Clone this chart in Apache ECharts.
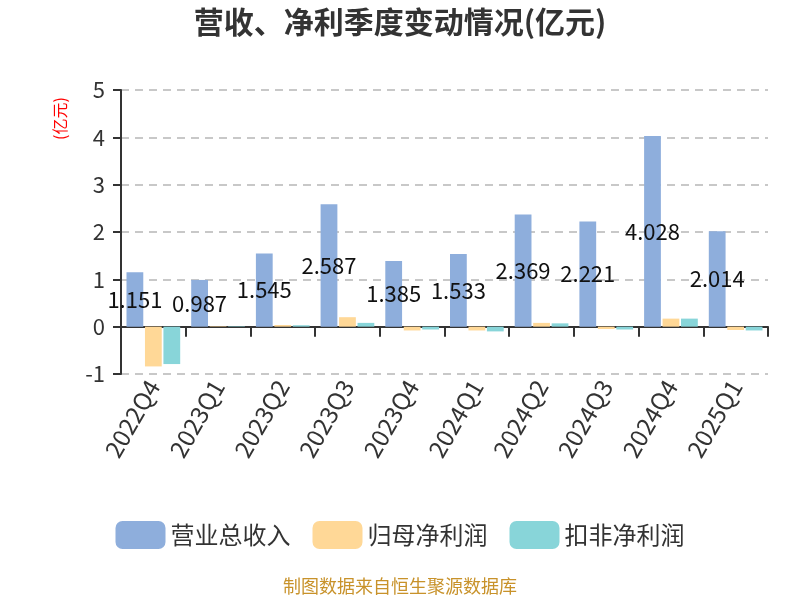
<!DOCTYPE html>
<html>
<head>
<meta charset="utf-8">
<script src="https://cdn.jsdelivr.net/npm/echarts@6/dist/echarts.min.js"></script>
<style>
  html, body { margin: 0; padding: 0; background: #fff; }
  #main { width: 800px; height: 600px; }
</style>
</head>
<body>
<div id="main"></div>
<script>
// 季度
var quarters = ["2022Q4", "2023Q1", "2023Q2", "2023Q3", "2023Q4", "2024Q1", "2024Q2", "2024Q3", "2024Q4", "2025Q1"];
// 营业总收入(亿元)
var revenue = [1.151, 0.987, 1.545, 2.587, 1.385, 1.533, 2.369, 2.221, 4.028, 2.014];
// 归母净利润(亿元)
var netProfit = [-0.84, 0.01, 0.035, 0.2, -0.08, -0.08, 0.08, -0.05, 0.17, -0.07];
// 扣非净利润(亿元)
var deductedProfit = [-0.79, 0.01, 0.03, 0.08, -0.06, -0.1, 0.07, -0.06, 0.17, -0.08];

var font = "Noto Sans CJK SC";
var chart = echarts.init(document.getElementById("main"));
var option = {
  textStyle: { fontFamily: font },
  title: {
    text: "营收、净利季度变动情况(亿元)",
    left: "center",
    top: 2,
    textStyle: { fontSize: 30, fontWeight: "bold", color: "#333", fontFamily: font }
  },
  legend: {
    bottom: 46,
    left: "center",
    itemWidth: 50,
    itemHeight: 28,
    itemGap: 22,
    textStyle: { fontSize: 24, color: "#333" },
    data: ["营业总收入", "归母净利润", "扣非净利润"]
  },
  grid: { left: 121, right: 32, top: 90, bottom: 226 },
  graphic: [
    {
      // y轴单位
      type: "text",
      x: 60,
      y: 140,
      rotation: Math.PI / 2,
      style: { text: "(亿元)", fill: "#ff0000", fontSize: 16, fontFamily: font, align: "left", verticalAlign: "middle" }
    },
    {
      type: "text",
      left: "center",
      top: 577,
      style: { text: "制图数据来自恒生聚源数据库", fill: "#c8922a", fontSize: 18, fontFamily: font }
    }
  ],
  xAxis: [
    {
      type: "category",
      data: quarters,
      axisLine: { onZero: true, lineStyle: { color: "#333", width: 2 } },
      axisTick: { show: true, length: 10, lineStyle: { color: "#333", width: 2 } },
      axisLabel: { show: false }
    },
    {
      type: "category",
      data: quarters,
      position: "bottom",
      axisLine: { show: false },
      axisTick: { show: false },
      axisLabel: { rotate: 60, fontSize: 24, color: "#333", margin: 8 }
    }
  ],
  yAxis: {
    type: "value",
    min: -1,
    max: 5,
    interval: 1,
    axisLine: { show: true, lineStyle: { color: "#333", width: 2 } },
    axisTick: { show: true, length: 8, lineStyle: { color: "#333", width: 2 } },
    axisLabel: { fontSize: 22, color: "#333", margin: 16 },
    splitLine: { lineStyle: { type: [8, 6], color: "#c8c8c8", width: 2 } }
  },
  series: [
    {
      name: "营业总收入",
      type: "bar",
      data: revenue,
      barGap: "10%",
      barCategoryGap: "17%",
      itemStyle: { color: "#8eaedc" },
      label: { show: true, position: "inside", color: "#111", fontSize: 22 }
    },
    {
      name: "归母净利润",
      type: "bar",
      data: netProfit,
      itemStyle: { color: "#ffd897" }
    },
    {
      name: "扣非净利润",
      type: "bar",
      data: deductedProfit,
      itemStyle: { color: "#88d5d9" }
    }
  ]
};
chart.setOption(option);
window.addEventListener("resize", function () {
  chart.resize();
});
</script>
</body>
</html>
